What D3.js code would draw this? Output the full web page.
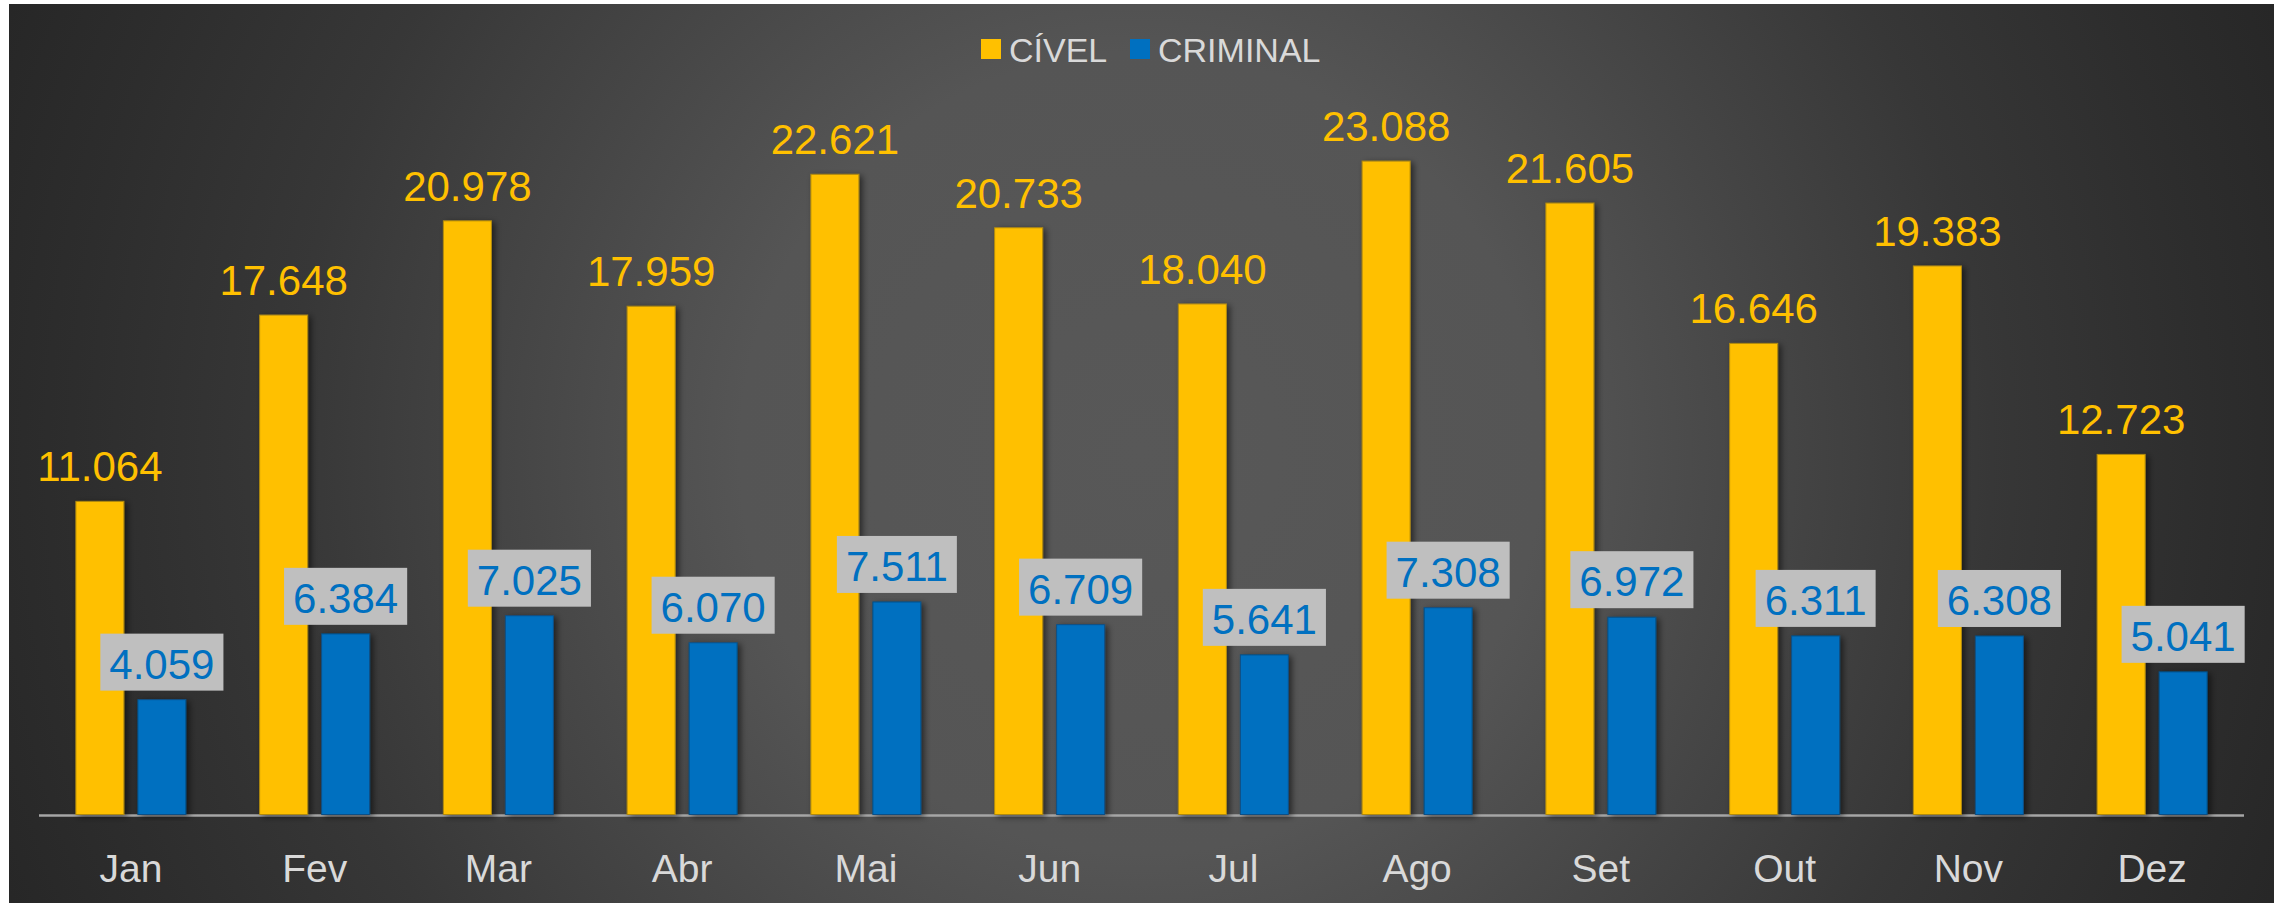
<!DOCTYPE html>
<html>
<head>
<meta charset="utf-8">
<script src="https://cdn.jsdelivr.net/npm/d3@7"></script>
<style>
  html, body { margin: 0; padding: 0; background: #ffffff; }
  svg { display: block; }
  text { font-family: "Liberation Sans", Arial, sans-serif; }
</style>
</head>
<body>
<svg id="chart" width="2287" height="903"></svg>
<script>
// ---- data ----
const months = ["Jan","Fev","Mar","Abr","Mai","Jun","Jul","Ago","Set","Out","Nov","Dez"];
const series = ["CÍVEL","CRIMINAL"];
const civel = [11064,17648,20978,17959,22621,20733,18040,23088,21605,16646,19383,12723];
const criminal = [4059,6384,7025,6070,7511,6709,5641,7308,6972,6311,6308,5041];
const yDomain = [0, 25000];

// ---- setup ----
const W = 2287, H = 903;
const svg = d3.select("#chart");
const defs = svg.append("defs");

const grad = defs.append("radialGradient")
  .attr("id","bg").attr("gradientUnits","userSpaceOnUse")
  .attr("cx",1141).attr("cy",453).attr("r",1215);
[[0,"#585858"],[0.33,"#555555"],[0.5,"#474747"],[0.7,"#373737"],[0.88,"#2d2d2d"],[1,"#272727"]]
  .forEach(([o,c]) => grad.append("stop").attr("offset",o).attr("stop-color",c));

const sh = defs.append("filter").attr("id","shadow")
  .attr("x","-30%").attr("y","-5%").attr("width","170%").attr("height","110%");
sh.append("feDropShadow").attr("dx",3).attr("dy",2).attr("stdDeviation",3)
  .attr("flood-color","#000").attr("flood-opacity",0.55);

svg.append("rect").attr("x",9).attr("y",4).attr("width",2265).attr("height",899)
  .attr("fill","url(#bg)");

const x0 = d3.scaleBand().domain(months).range([39, 2244]).paddingInner(0).paddingOuter(0);
const x1 = d3.scaleBand().domain(series).range([-55, 55]).paddingInner(14/62).paddingOuter(0);
const y = d3.scaleLinear().domain(yDomain).range([814.5, 814.5 - 0.0283*25000]);

const colors = { "CÍVEL": "#FFC000", "CRIMINAL": "#0070C0" };
const strokes = { "CÍVEL": "#b08a10", "CRIMINAL": "#0a4f85" };

const rows = months.map((m,i) => ({ month: m, values: [
  { key: "CÍVEL", value: civel[i] }, { key: "CRIMINAL", value: criminal[i] } ] }));

// baseline
svg.append("line").attr("x1",39).attr("x2",2244)
  .attr("y1",y(0)+1).attr("y2",y(0)+1)
  .attr("stroke","#a6a6a6").attr("stroke-width",2.5);

// bars
const groups = svg.append("g").selectAll("g").data(rows).join("g")
  .attr("transform", d => `translate(${x0(d.month) + x0.bandwidth()/2},0)`);

groups.selectAll("rect").data(d => d.values).join("rect")
  .attr("x", d => x1(d.key))
  .attr("width", x1.bandwidth())
  .attr("y", d => y(d.value))
  .attr("height", d => y(0) - y(d.value))
  .attr("fill", d => colors[d.key])
  .attr("stroke", d => strokes[d.key]).attr("stroke-width",1)
  .attr("filter","url(#shadow)");

const fmt = v => d3.format(",")(v).replace(/,/g, ".");

// civel labels
groups.append("text")
  .attr("x", x1("CÍVEL") + x1.bandwidth()/2)
  .attr("y", d => y(d.values[0].value) - 20)
  .attr("text-anchor","middle")
  .attr("font-size", 42)
  .attr("fill","#FFC000")
  .text(d => fmt(d.values[0].value));

// criminal labels with box
groups.each(function(d) {
  const g = d3.select(this);
  const cx = x1("CRIMINAL") + x1.bandwidth()/2;
  const yTop = y(d.values[1].value);
  const boxBottom = yTop - 9, boxH = 57;
  const rect = g.append("rect").attr("fill","#BFBFBF");
  const t = g.append("text")
    .attr("x", cx).attr("y", boxBottom - 12)
    .attr("text-anchor","middle").attr("font-size",42)
    .attr("fill","#0070C0")
    .text(fmt(d.values[1].value));
  const w = t.node().getComputedTextLength() + 18;
  rect.attr("x", cx - w/2).attr("width", w)
    .attr("y", boxBottom - boxH).attr("height", boxH);
});

// x axis labels
const xAxis = d3.axisBottom(x0).tickSize(0).tickPadding(0);
const ax = svg.append("g").attr("transform", `translate(0,${y(0)})`).call(xAxis);
ax.select(".domain").remove();
ax.selectAll("text")
  .attr("dy", null).attr("y", 67)
  .attr("font-size", 39).attr("fill", "#D9D9D9")
  .style("font-family", '"Liberation Sans", Arial, sans-serif');

// legend
const legend = svg.append("g");
const legendItems = [{ key: "CÍVEL", x: 981, tx: 1009 }, { key: "CRIMINAL", x: 1130, tx: 1158 }];
legendItems.forEach(it => {
  legend.append("rect").attr("x", it.x).attr("y", 39).attr("width", 20).attr("height", 20)
    .attr("fill", colors[it.key]);
  legend.append("text").attr("x", it.tx).attr("y", 61.5)
    .attr("font-size", 34).attr("fill", "#D9D9D9")
    .text(it.key);
});
</script>
</body>
</html>
